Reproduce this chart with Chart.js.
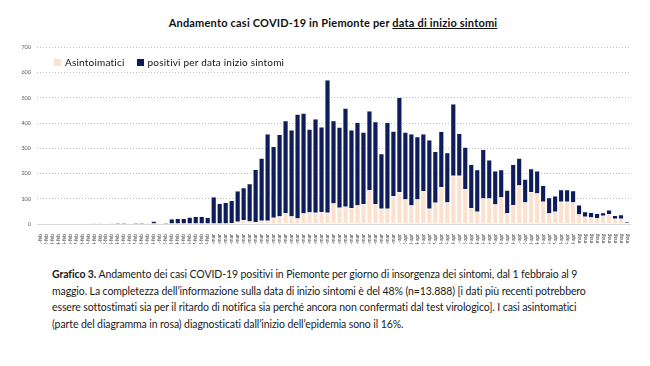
<!DOCTYPE html>
<html lang="it">
<head>
<meta charset="UTF-8">
<title>Andamento casi COVID-19 in Piemonte</title>
<script src="https://cdn.jsdelivr.net/npm/chart.js"></script>
<style>
    body { margin: 0; background: #fff; font-family: Lato, "Open Sans", sans-serif; }
    #page { position: relative; width: 650px; height: 366px; overflow: hidden; }
    #title { position: absolute; top: 16px; left: 0; width: 666px; text-align: center;
             font-weight: bold; font-size: 11px; letter-spacing: 0.2px; color: #111; }
    #chartBox { position: absolute; left: 0; top: 38px; width: 640px; height: 206px; }
    #legend { position: absolute; left: 54px; top: 56px; font-size: 10px; letter-spacing: 0.2px;
              color: #111; white-space: nowrap; }
    #legend span.box { display: inline-block; width: 7px; height: 7px; margin-right: 4px; }
    #legend span.item { margin-right: 12px; }
    #caption { position: absolute; left: 52px; top: 266px; width: 600px;
               font-size: 10.5px; letter-spacing: -0.1px; line-height: 16.5px; color: #1a1a1a; white-space: nowrap; }
</style>
</head>
<body>
<div id="page">
    <div id="title">Andamento casi COVID-19 in Piemonte per <u>data di inizio sintomi</u></div>
    <div id="chartBox"><canvas id="chart"></canvas></div>
    <div id="legend"></div>
    <div id="caption">
        <b>Grafico 3.</b> Andamento dei casi COVID-19 positivi in Piemonte per giorno di insorgenza dei sintomi, dal 1 febbraio al 9<br>
        maggio. La completezza dell’informazione sulla data di inizio sintomi è del 48% (n=13.888) [i dati più recenti potrebbero<br>
        essere sottostimati sia per il ritardo di notifica sia perché ancora non confermati dal test virologico]. I casi asintomatici<br>
        (parte del diagramma in rosa) diagnosticati dall’inizio dell’epidemia sono il 16%.
    </div>
</div>
<script>
// date di inizio sintomi, 1 febbraio - 9 maggio
const labels = [
    '1-feb','2-feb','3-feb','4-feb','5-feb','6-feb','7-feb','8-feb','9-feb','10-feb',
    '11-feb','12-feb','13-feb','14-feb','15-feb','16-feb','17-feb','18-feb','19-feb','20-feb',
    '21-feb','22-feb','23-feb','24-feb','25-feb','26-feb','27-feb','28-feb','29-feb',
    '1-mar','2-mar','3-mar','4-mar','5-mar','6-mar','7-mar','8-mar','9-mar','10-mar',
    '11-mar','12-mar','13-mar','14-mar','15-mar','16-mar','17-mar','18-mar','19-mar','20-mar',
    '21-mar','22-mar','23-mar','24-mar','25-mar','26-mar','27-mar','28-mar','29-mar','30-mar','31-mar',
    '1-apr','2-apr','3-apr','4-apr','5-apr','6-apr','7-apr','8-apr','9-apr','10-apr',
    '11-apr','12-apr','13-apr','14-apr','15-apr','16-apr','17-apr','18-apr','19-apr','20-apr',
    '21-apr','22-apr','23-apr','24-apr','25-apr','26-apr','27-apr','28-apr','29-apr','30-apr',
    '1-mag','2-mag','3-mag','4-mag','5-mag','6-mag','7-mag','8-mag','9-mag'
];

// casi asintomatici (parte rosa)
const asintomatici = [
    0,0,0,0,0,0,0,0,0,0, 0,0,0,0,0,0,0,0,0,0, 0,0,0,0,0,0,0,0,0,
    0,0,2,4,9,16,10,8,13,13, 25,30,43,30,22,42,46,45,47,45,
    81,64,68,62,73,79,134,79,60,60,110,
    127,97,73,97,131,60,84,146,85,191, 191,138,62,49,101,101,77,105,43,75,
    153,85,127,121,88,42,49,88,88,85,
    38,29,26,24,33,39,21,21,5
];

// positivi sintomatici per data inizio sintomi (parte blu)
const positivi = [
    1,2,0,0,0,0,2,0,0,3, 3,0,3,5,5,2,5,5,3,11, 2,5,20,22,22,27,30,30,26,
    107,81,83,89,122,128,149,208,247,344, 282,325,366,342,413,397,329,371,337,525,
    328,319,391,310,329,284,314,326,218,342,257,
    374,266,284,249,226,273,203,220,197,284, 168,166,174,166,194,153,133,110,91,161,
    107,92,92,89,65,62,62,48,48,47,
    37,20,20,18,12,16,13,16,5
];

const yTicks = [0, 100, 200, 300, 400, 500, 600, 700];

const chart = new Chart(document.getElementById('chart'), {
    type: 'bar',
    data: {
        labels: labels,
        datasets: [
            {
                label: 'Asintoimatici',
                data: asintomatici,
                backgroundColor: '#fce1ce',
                borderColor: 'rgba(255,255,255,0.9)',
                borderWidth: 0.5,
                barPercentage: 0.86,
                categoryPercentage: 1
            },
            {
                label: 'positivi per data inizio sintomi',
                data: positivi,
                backgroundColor: '#0e1d5a',
                borderColor: 'rgba(220,222,232,0.9)',
                borderWidth: 0.5,
                barPercentage: 0.86,
                categoryPercentage: 1
            }
        ]
    },
    options: {
        responsive: true,
        maintainAspectRatio: false,
        animation: false,
        layout: { padding: { left: 10, right: 10, top: 8, bottom: 0 } },
        plugins: {
            title: { display: false },
            tooltip: { enabled: false },
            legend: { display: false }
        },
        scales: {
            x: {
                stacked: true,
                grid: { display: false },
                border: { display: true, color: '#d9d9d9' },
                ticks: {
                    autoSkip: false,
                    minRotation: 90,
                    maxRotation: 90,
                    padding: 2,
                    color: '#404040',
                    font: { family: 'Lato', size: 5 }
                },
                afterFit: function(scale) { scale.height = 20; }
            },
            y: {
                stacked: true,
                min: 0,
                max: 700,
                afterBuildTicks: function(scale) { scale.ticks = yTicks.map(v => ({ value: v })); },
                grid: { color: '#bdbdbd', lineWidth: 1, drawTicks: false },
                border: { display: false, dash: [1, 2] },
                ticks: {
                    padding: 6,
                    color: '#595959',
                    font: { family: 'Lato', size: 5.5 }
                },
                afterFit: function(scale) { scale.width = 27; }
            }
        }
    }
});

// legenda in alto a sinistra, dentro l'area del grafico
const legendEl = document.getElementById('legend');
chart.data.datasets.forEach(function(ds) {
    const item = document.createElement('span');
    item.className = 'item';
    item.innerHTML = '<span class="box" style="background:' + ds.backgroundColor + '"></span>' + ds.label;
    legendEl.appendChild(item);
});
</script>
</body>
</html>
